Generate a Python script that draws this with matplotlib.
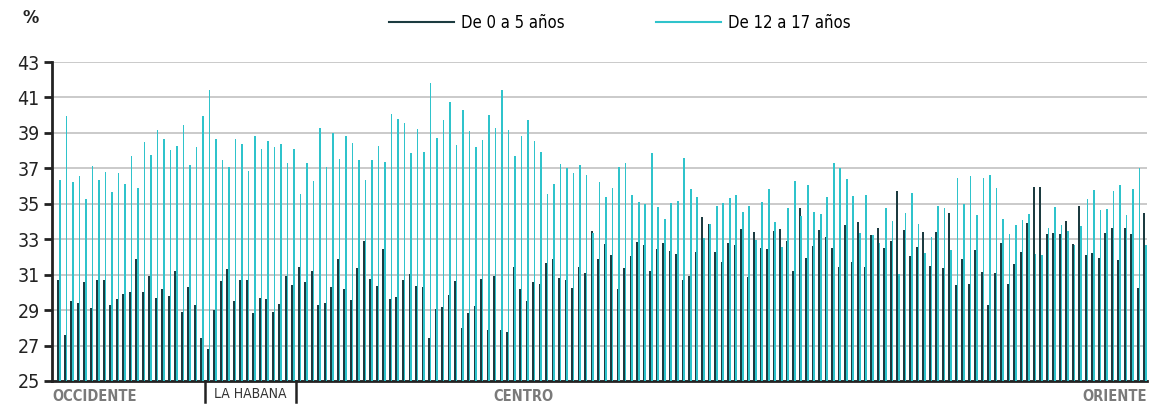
import numpy as np
import matplotlib.pyplot as plt
import matplotlib.transforms as mtransforms

plt.rcParams['font.family'] = ['DejaVu Sans']
plt.rcParams['font.stretch'] = 'condensed'

# porcentaje por municipio, de 0 a 5 años
ninos_0_5 = [
    30.7, 27.6, 29.5, 29.4, 30.6, 29.1, 30.7, 30.7, 29.3, 29.6, 29.9, 30.05, 31.9, 30.0,
    30.9, 29.7, 30.2, 29.8, 31.2, 28.9, 30.3, 29.3, 27.4, 26.8, 29.0, 30.65, 31.3, 29.5,
    30.7, 30.7, 28.85, 29.7, 29.6, 28.9, 29.35, 30.9, 30.4, 31.45, 30.6, 31.2, 29.3, 29.4,
    30.3, 31.9, 30.2, 29.55, 31.4, 32.9, 30.75, 30.35, 32.45, 29.6, 29.75, 30.7, 31.05,
    30.37, 30.3, 27.45, 29.07, 29.18, 29.86, 30.67, 28.0, 28.84, 29.24, 30.74, 27.9, 30.93, 27.9,
    27.75, 31.44, 30.2, 29.54, 30.6, 30.5, 31.67, 31.87, 30.84, 30.69, 30.27, 31.44, 31.08, 33.47,
    31.9, 32.74, 32.12, 30.18, 31.35, 32.06, 32.85, 32.68, 31.2, 32.44, 32.8, 32.34, 32.14, 30.7,
    30.95, 32.27, 34.27, 33.85, 32.27, 31.72, 32.78, 32.65, 33.59, 30.88, 33.38, 32.5, 32.44, 33.46,
    33.59, 32.89, 31.2, 34.77, 31.95, 32.63, 33.53, 33.15, 32.48, 31.42, 33.81, 31.72, 33.98, 31.44,
    33.23, 33.64, 32.51, 32.89, 35.72, 33.51, 32.06, 32.55, 33.4, 31.5, 33.42, 31.4, 34.47, 30.42,
    31.87, 30.48, 32.4, 31.16, 29.29, 31.1, 32.76, 30.48, 31.59, 32.27, 33.89, 35.92, 35.96,
    33.32, 33.36, 33.32, 34.02, 32.72, 34.89, 32.1, 32.25, 31.93, 33.36, 33.64, 31.85, 33.66, 33.3, 30.27, 34.49,
]

# porcentaje por municipio, de 12 a 17 años
jovenes_12_17 = [
    36.36, 39.97, 36.24, 36.56, 35.28, 37.13, 36.37, 36.81, 35.64, 36.73, 36.13, 37.69, 35.89, 38.5,
    37.77, 39.16, 38.65, 38.05, 38.26, 39.44, 37.17, 38.2, 39.95, 41.4, 38.63, 37.49, 37.07, 38.65,
    38.37, 36.86, 38.8, 38.07, 38.56, 38.2, 38.35, 37.3, 38.1, 35.55, 37.28, 36.3, 39.3,
    37.1, 39.0, 37.54, 38.84, 38.43, 37.47, 36.36, 37.49, 38.24, 37.35, 40.07, 39.78, 39.56, 37.88,
    39.2, 37.94, 41.8, 38.73, 39.7, 40.74, 38.3, 40.3, 39.12, 38.18, 38.6, 40.0, 39.27, 41.44,
    39.14, 37.67, 38.84, 39.75, 38.56, 37.9, 35.58, 36.13, 37.24, 37.03, 36.75, 37.18, 36.64, 33.36,
    36.24, 35.4, 35.9, 37.09, 37.3, 35.5, 35.08, 34.98, 37.86, 34.83, 34.15, 35.04, 35.15, 37.58,
    35.83, 35.41, 33.08, 33.85, 34.87, 35.06, 35.34, 35.5, 34.53, 34.89, 32.95, 35.09, 35.83, 33.96,
    32.57, 34.75, 36.3, 34.32, 36.07, 34.51, 34.43, 35.36, 37.3, 37.02, 36.41, 35.45, 33.34, 35.49,
    33.23, 32.78, 34.77, 34.04, 31.03, 34.49, 35.6, 33.87, 32.23, 33.12, 34.9, 34.77, 32.4, 36.47,
    34.98, 36.54, 34.38, 36.47, 36.62, 35.9, 34.15, 33.3, 33.81, 34.1, 34.4, 32.19, 32.12,
    33.62, 34.83, 33.83, 33.44, 32.65, 33.76, 35.28, 35.79, 34.66, 34.72, 35.72, 36.07, 34.38, 35.85, 37.02, 32.68,
]

# regiones: nombre y cantidad de municipios
regiones = ['OCCIDENTE', 'LA HABANA', 'CENTRO', 'ORIENTE']
n_municipios = [23, 14, 92, 39]

color_oscuro = '#1c3b40'
color_cian = '#2fc3cb'

fig = plt.figure(figsize=(11.58, 4.08), dpi=100)
ax = fig.add_axes([0.0452, 0.0662, 0.9453, 0.7818])

x = np.arange(len(ninos_0_5))
base = 25
ax.bar(x, np.array(ninos_0_5) - base, bottom=base, width=0.31, color=color_oscuro,
       zorder=3, linewidth=0)
ax.bar(x + 0.24, np.array(jovenes_12_17) - base, bottom=base, width=0.25, color=color_cian,
       zorder=3, linewidth=0)

ax.set_xlim(-0.92, len(x) - 0.6)
ax.set_ylim(25, 43)
ax.set_yticks(np.arange(25, 44, 2))
ax.set_xticks([])
ax.grid(axis='y', color='#c6c6c6', linewidth=1.3, zorder=0)

for lado in ['top', 'right']:
    ax.spines[lado].set_visible(False)
ax.spines['left'].set_linewidth(2)
ax.spines['bottom'].set_linewidth(2)
ax.spines['left'].set_color('#222222')
ax.spines['bottom'].set_color('#222222')
ax.tick_params(axis='y', length=6, width=2, color='#222222', labelsize=14,
               labelcolor='#222222', pad=3)

# separadores entre regiones (solo occidente | habana | centro)
trans = mtransforms.blended_transform_factory(ax.transData, ax.transAxes)
limites = np.cumsum(n_municipios)
for fin in limites[:2]:
    ax.plot([fin - 0.38, fin - 0.38], [0, -0.065], transform=trans, color='#222222',
            linewidth=1.8, clip_on=False)

gris = '#7a7a7a'
ax.text(-0.92, -0.048, regiones[0], transform=trans, ha='left', va='center',
        fontsize=10.5, fontweight='bold', color=gris)
ax.text((limites[0] + limites[1]) / 2 - 0.5, -0.04, regiones[1], transform=trans,
        ha='center', va='center', fontsize=10, color='#333333')
ax.text(71.5, -0.048, regiones[2], transform=trans, ha='center', va='center',
        fontsize=10.5, fontweight='bold', color=gris)
ax.text(len(x) - 0.6, -0.048, regiones[3], transform=trans, ha='right',
        va='center', fontsize=10.5, fontweight='bold', color=gris)

fig.text(0.019, 0.955, '%', fontsize=13, fontweight='bold', color='#222222', va='center')

# leyenda con líneas
lineas = [plt.Line2D([], [], color=color_oscuro, linewidth=1.5),
          plt.Line2D([], [], color=color_cian, linewidth=1.5)]
fig.legend(lineas, ['De 0 a 5 años', 'De 12 a 17 años'], loc='center',
           bbox_to_anchor=(0.5354, 0.943), ncol=2, frameon=False, fontsize=12,
           handlelength=3.9, columnspacing=5.45, handletextpad=0.42)

fig.savefig('out.png', dpi=100)
